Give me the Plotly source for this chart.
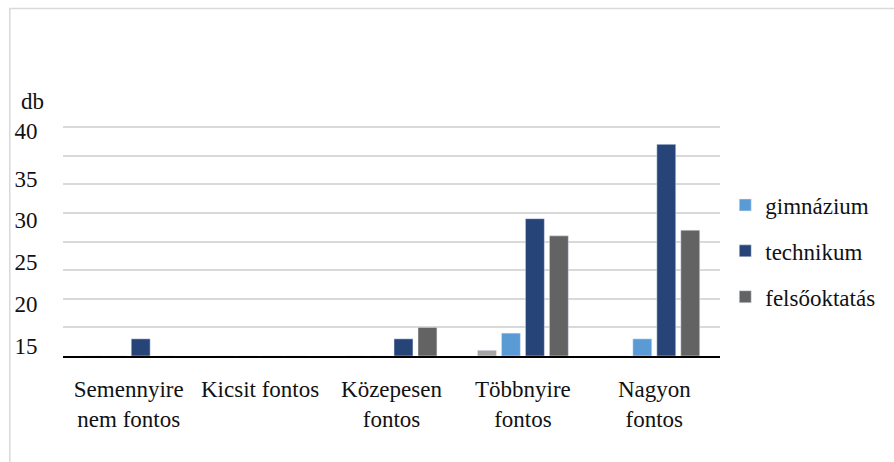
import plotly.graph_objects as go

categories = ["Semennyire<br>nem fontos", "Kicsit fontos", "Közepesen<br>fontos",
              "Többnyire<br>fontos", "Nagyon<br>fontos"]
egyeb = [0, 0, 0, 1, 0]
gimnazium = [0, 0, 0, 4, 3]
technikum = [3, 0, 3, 24, 37]
felsooktatas = [0, 0, 5, 21, 22]

ytick_text = ["15", "20", "25", "30", "35", "40"]
ytick_pos = [1.8, 9.1, 16.4, 23.8, 31.0, 39.3]

FONT = "Liberation Serif, Times New Roman, DejaVu Serif, serif"

fig = go.Figure()
fig.add_trace(go.Bar(x=categories, y=egyeb, name="egyéb", marker_color="#A5A5A5",
                     showlegend=False))
fig.add_trace(go.Bar(x=categories, y=gimnazium, name="gimnázium", marker_color="#5B9BD5",
                     legendgroup="g1"))
fig.add_trace(go.Bar(x=categories, y=technikum, name="technikum", marker_color="#264478",
                     legendgroup="g2"))
fig.add_trace(go.Bar(x=categories, y=felsooktatas, name="felsőoktatás", marker_color="#636363",
                     legendgroup="g3"))

fig.update_layout(
    width=894, height=462,
    margin=dict(l=63, r=174, t=126, b=106),
    paper_bgcolor="white", plot_bgcolor="white",
    barmode="group", bargap=0.27, bargroupgap=0.21,
    font=dict(family=FONT, size=21, color="#111111"),
    legend=dict(x=1.008, y=0.75, xanchor="left", yanchor="top",
                font=dict(family=FONT, size=23, color="#111111"),
                tracegroupgap=13, itemwidth=30),
    annotations=[dict(text="db", xref="paper", yref="paper", x=-0.047, y=1.105,
                      xanchor="center", yanchor="middle",
                      showarrow=False, font=dict(family=FONT, size=23, color="#111111"))],
    shapes=[dict(type="rect", xref="paper", yref="paper",
                 x0=-0.081, x1=1.3, y0=-0.6, y1=1.511,
                 line=dict(color="#D9D9D9", width=1.5), fillcolor="rgba(0,0,0,0)")],
)
fig.update_xaxes(showline=True, linecolor="black", linewidth=2, showgrid=False,
                 ticks="outside", ticklen=11, tickcolor="rgba(0,0,0,0)",
                 tickfont=dict(family=FONT, size=23, color="#111111"))
fig.update_yaxes(range=[0, 40.2], showgrid=False, zeroline=False,
                 tickmode="array", tickvals=ytick_pos, ticktext=ytick_text,
                 ticks="outside", ticklen=20, tickcolor="rgba(0,0,0,0)",
                 tickfont=dict(family=FONT, size=23, color="#111111"),
                 minor=dict(dtick=5, tick0=0, showgrid=True, gridcolor="#D9D9D9",
                            gridwidth=1.5, ticks=""))

fig.write_html("out.html")
